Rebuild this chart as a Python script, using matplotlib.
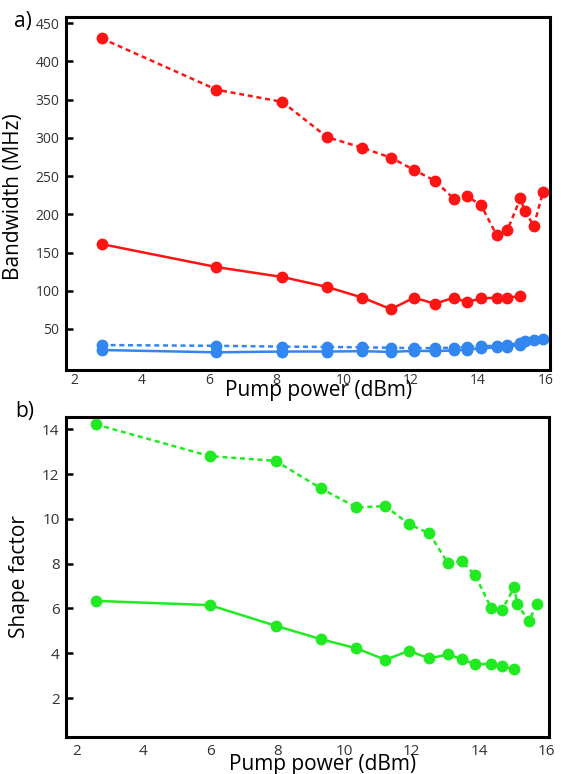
import matplotlib
matplotlib.use("Agg")
import matplotlib.pyplot as plt

plt.rcParams['font.family'] = ['Open Sans', 'DejaVu Sans']

# panel a) bandwidth vs pump power
pump_a = [2.81, 6.22, 8.18, 9.51, 10.56, 11.41, 12.10, 12.71, 13.29, 13.66,
          14.09, 14.55, 14.87, 15.26, 15.39, 15.66, 15.93]
red_dashed = [430, 363, 347, 301, 287, 274, 258, 244, 220, 224,
              212, 173, 179, 221, 204, 185, 229]
red_solid = [161, 131, 118, 105, 91, 76, 91, 83, 91, 85, 90, 91, 91, 93]
blue_dashed = [29, 28, 27, 26.5, 26, 25.5, 25, 25, 25.5, 26.5,
               27.5, 28, 29, 32, 34, 35, 37]
blue_solid = [22.5, 19.5, 20.5, 20.5, 21, 20, 21.5, 21, 22, 23, 24.5, 26, 27, 29]

# panel b) shape factor vs pump power
pump_b = [2.58, 5.98, 7.94, 9.29, 10.35, 11.21, 11.91, 12.52, 13.08, 13.48,
          13.88, 14.36, 14.68, 15.05, 15.14, 15.48, 15.73]
green_dashed = [14.22, 12.80, 12.59, 11.36, 10.51, 10.57, 9.77, 9.35, 8.01, 8.12,
                7.49, 6.03, 5.93, 6.94, 6.2, 5.44, 6.2]
green_solid = [6.34, 6.15, 5.23, 4.63, 4.22, 3.71, 4.11, 3.77, 3.95, 3.74,
               3.52, 3.52, 3.42, 3.29]

xticks = [2, 4, 6, 8, 10, 12, 14, 16]
yticks_a = [50, 100, 150, 200, 250, 300, 350, 400, 450]
yticks_b = [2, 4, 6, 8, 10, 12, 14]

RED = '#ff1414'
BLUE = '#3186f0'
GREEN = '#22ea22'
dash = (0, (2, 1.5))

fig = plt.figure(figsize=(5.61, 7.74), dpi=100)
ax1 = fig.add_axes([0.1185, 0.522, 0.8625, 0.456])
ax2 = fig.add_axes([0.1185, 0.048, 0.861, 0.4136])

n = len(red_solid)
ax1.plot(pump_a, red_dashed, color=RED, ls=dash, lw=1.8, marker='o', ms=7.5)
ax1.plot(pump_a[:n], red_solid, color=RED, lw=1.8, marker='o', ms=7.5)
ax1.plot(pump_a, blue_dashed, color=BLUE, ls=dash, lw=1.8, marker='o', ms=7.5)
ax1.plot(pump_a[:n], blue_solid, color=BLUE, lw=1.8, marker='o', ms=7.5)

m = len(green_solid)
ax2.plot(pump_b, green_dashed, color=GREEN, ls=dash, lw=1.8, marker='o', ms=7.5)
ax2.plot(pump_b[:m], green_solid, color=GREEN, lw=1.8, marker='o', ms=7.5)

ax1.set_xlim(1.76, 16.15)
ax1.set_ylim(-3.6, 458)
ax2.set_xlim(1.71, 16.10)
ax2.set_ylim(0.27, 14.56)

for ax, yt, fs, xpad in [(ax1, yticks_a, 10, 2), (ax2, yticks_b, 11, 5)]:
    ax.set_xticks(xticks)
    ax.set_yticks(yt)
    for s in ax.spines.values():
        s.set_linewidth(2.2)
    ax.tick_params(axis='y', direction='in', length=5, width=1.8, pad=5,
                   labelsize=fs, colors='black', labelcolor='#333333')
    ax.tick_params(axis='x', length=0, pad=xpad, labelsize=fs, labelcolor='#333333')

ax1.set_xlabel('Pump power (dBm)', fontsize=15)
ax1.xaxis.label.set_va('center')
ax1.xaxis.set_label_coords(0.52, -0.057)
ax1.set_ylabel('Bandwidth (MHz)', fontsize=15)
ax1.yaxis.set_label_coords(-0.088, 0.49)

ax2.set_xlabel('Pump power (dBm)', fontsize=15)
ax2.xaxis.label.set_va('center')
ax2.xaxis.set_label_coords(0.53, -0.086)
ax2.set_ylabel('Shape factor', fontsize=15)
ax2.yaxis.set_label_coords(-0.075, 0.5)

fig.text(0.04, 1 - 22 / 774, 'a)', fontsize=15, ha='center', va='center')
fig.text(0.045, 1 - 412 / 774, 'b)', fontsize=15, ha='center', va='center')

fig.savefig('out.png', dpi=100)
